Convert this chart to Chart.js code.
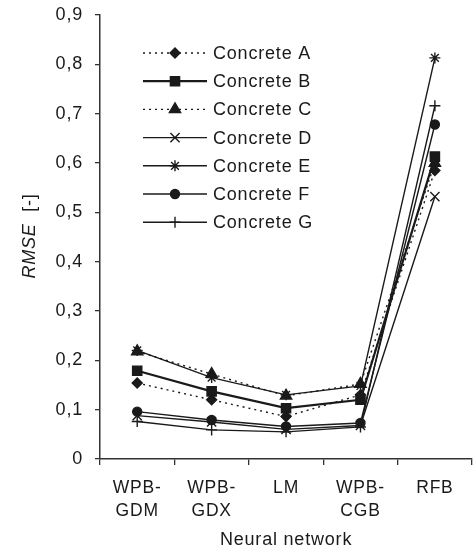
<!DOCTYPE html>
<html lang="en">
<head>
<meta charset="UTF-8">
<title>RMSE by neural network</title>
<script src="https://cdn.jsdelivr.net/npm/chart.js"></script>
<style>
    html, body { margin: 0; padding: 0; background: #fff; overflow: hidden; }
    #wrap { width: 473px; height: 547px; overflow: hidden; }
</style>
</head>
<body>
<div id="wrap"><canvas id="rmseChart" width="480" height="547"></canvas></div>
<script>
// categories and RMSE values per concrete
const networks = [["WPB-", "GDM"], ["WPB-", "GDX"], "LM", ["WPB-", "CGB"], "RFB"];
const concreteA = [0.154, 0.120, 0.086, 0.130, 0.585];
const concreteB = [0.179, 0.137, 0.103, 0.120, 0.613];
const concreteC = [0.218, 0.172, 0.128, 0.152, 0.600];
const concreteD = [0.088, 0.075, 0.060, 0.068, 0.532];
const concreteE = [0.220, 0.165, 0.130, 0.148, 0.813];
const concreteF = [0.096, 0.079, 0.066, 0.073, 0.678];
const concreteG = [0.076, 0.059, 0.055, 0.065, 0.716];
const yTicks = [0, 0.1, 0.2, 0.3, 0.4, 0.5, 0.6, 0.7, 0.8, 0.9];

const ink = "#1a1a1a";
const font = "'Liberation Sans', Arial, sans-serif";
const spacing = "0.8px";

function series(label, data, style, radius, dash, width) {
    return {
        label: label,
        data: data,
        borderColor: ink,
        backgroundColor: ink,
        borderWidth: width || 1.4,
        borderDash: dash || [],
        pointStyle: style,
        pointRadius: radius,
        pointBorderWidth: 1.4,
        pointBackgroundColor: ink,
        pointBorderColor: ink,
        tension: 0
    };
}

const datasets = [
    series("Concrete A", concreteA, "rectRot", 5, [2, 4]),
    series("Concrete B", concreteB, "rect", 6.5, null, 2.2),
    series("Concrete C", concreteC, "triangle", 6.5, [2, 4]),
    series("Concrete D", concreteD, "crossRot", 6.5),
    series("Concrete E", concreteE, "star", 5.5),
    series("Concrete F", concreteF, "circle", 4.5),
    series("Concrete G", concreteG, "cross", 5.5)
];

// slightly wider lettering for all chart text
const letterSpacing = {
    id: "letterSpacing",
    beforeLayout(chart) { chart.ctx.letterSpacing = spacing; },
    beforeDraw(chart) { chart.ctx.letterSpacing = spacing; }
};

// legend drawn by hand so each entry shows its line pattern plus marker
const lineLegend = {
    id: "lineLegend",
    afterDraw(chart) {
        const ctx = chart.ctx;
        ctx.save();
        chart.data.datasets.forEach((ds, i) => {
            const y = 53 + i * 28.2;
            ctx.strokeStyle = ink;
            ctx.fillStyle = ink;
            ctx.lineWidth = ds.borderWidth;
            ctx.setLineDash(ds.borderDash);
            ctx.beginPath();
            ctx.moveTo(143, y);
            ctx.lineTo(207, y);
            ctx.stroke();
            ctx.setLineDash([]);
            ctx.lineWidth = ds.pointBorderWidth;
            Chart.helpers.drawPoint(ctx, {
                pointStyle: ds.pointStyle,
                radius: ds.pointRadius,
                borderWidth: ds.pointBorderWidth,
                rotation: 0
            }, 175, y);
            ctx.font = "18px " + font;
            ctx.letterSpacing = spacing;
            ctx.textBaseline = "middle";
            ctx.textAlign = "left";
            ctx.fillText(ds.label, 213, y + 1);
        });
        ctx.restore();
    }
};

// y axis title with italic RMSE
const yTitle = {
    id: "yTitle",
    afterDraw(chart) {
        const ctx = chart.ctx;
        ctx.save();
        ctx.translate(30, 236);
        ctx.rotate(-Math.PI / 2);
        ctx.fillStyle = ink;
        ctx.letterSpacing = spacing;
        ctx.textBaseline = "middle";
        ctx.textAlign = "left";
        const a = "RMSE";
        const b = "  [-]";
        ctx.font = "italic 18px " + font;
        const wa = ctx.measureText(a).width;
        ctx.font = "18px " + font;
        const wb = ctx.measureText(b).width;
        const x0 = -(wa + wb) / 2;
        ctx.font = "italic 18px " + font;
        ctx.fillText(a, x0, 0);
        ctx.font = "18px " + font;
        ctx.fillText(b, x0 + wa, 0);
        ctx.restore();
    }
};

new Chart(document.getElementById("rmseChart"), {
    type: "line",
    data: { labels: networks, datasets: datasets },
    options: {
        responsive: false,
        animation: false,
        layout: { padding: { top: 15, right: 1, left: 0, bottom: 0 } },
        plugins: { legend: { display: false }, tooltip: { enabled: false } },
        scales: {
            x: {
                offset: true,
                grid: { offset: true, drawOnChartArea: false, drawTicks: true, tickLength: 6, color: "#333", lineWidth: 1.3 },
                border: { color: "#333", width: 1.5 },
                ticks: { color: ink, font: { family: font, size: 17.5, lineHeight: 1.35 }, padding: 11, maxRotation: 0, autoSkip: false },
                title: { display: true, text: "Neural network", color: ink, font: { family: font, size: 18 }, padding: { top: 0, bottom: -4 } },
                afterFit(scale) {
                    scale.height = 88;
                    scale.paddingLeft = 0;
                    scale.paddingRight = 0;
                }
            },
            y: {
                min: 0,
                max: 0.9,
                afterBuildTicks(scale) { scale.ticks = yTicks.map(v => ({ value: v })); },
                grid: { drawOnChartArea: false, drawTicks: true, tickLength: 5, color: "#333", lineWidth: 1.3 },
                border: { color: "#333", width: 1.5 },
                ticks: {
                    color: ink,
                    font: { family: font, size: 18 },
                    padding: 12,
                    callback: v => v === 0 ? "0" : v.toFixed(1).replace(".", ",")
                },
                afterFit(scale) {
                    scale.width = 100;
                    scale.paddingTop = 0;
                    scale.paddingBottom = 0;
                }
            }
        }
    },
    plugins: [letterSpacing, lineLegend, yTitle]
});
</script>
</body>
</html>
